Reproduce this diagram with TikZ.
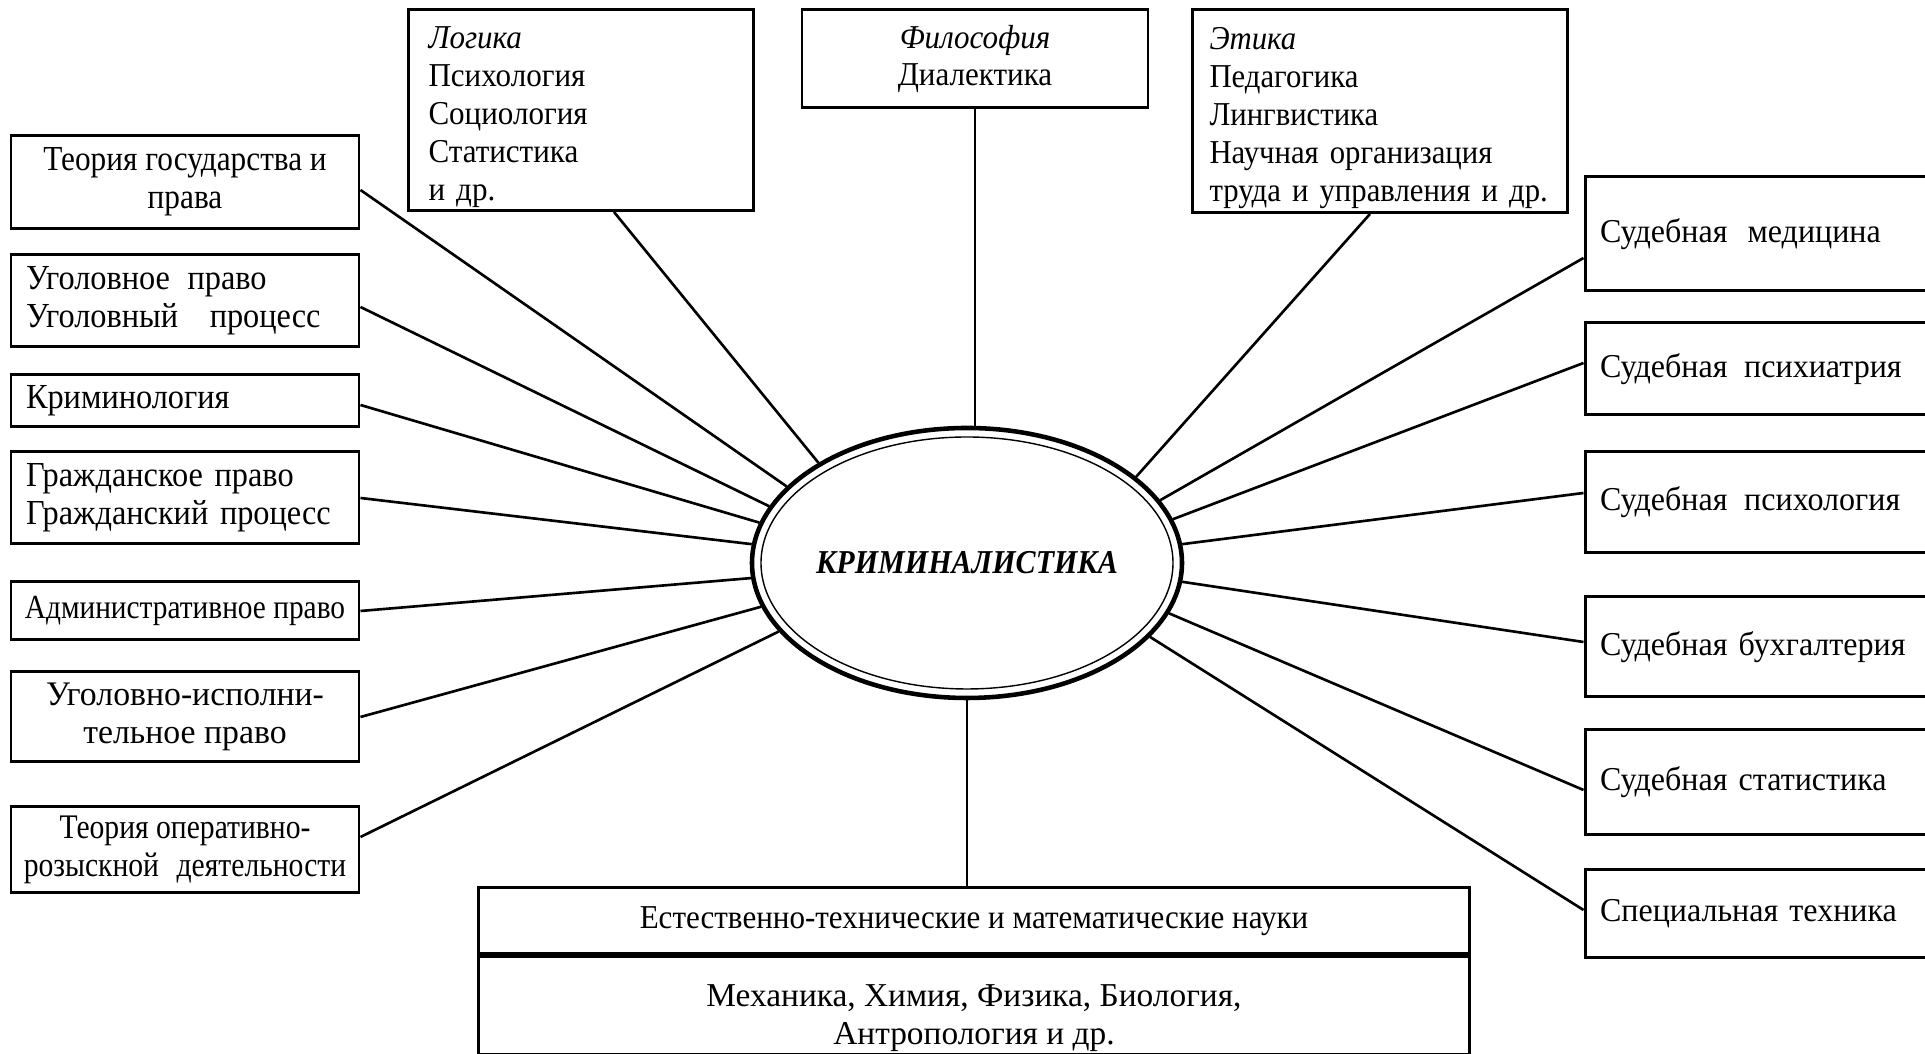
\documentclass[tikz,border=0pt]{standalone}
\usepackage{fontspec}
\setmainfont{Liberation Serif}
\usetikzlibrary{positioning,calc,shapes.geometric}

% size and horizontal stretch of box text
\newcommand\boxfnt[2]{\fontsize{#1}{10.8}\selectfont\addfontfeatures{FakeStretch=#2}}

\begin{document}
\begin{tikzpicture}[x=0.1mm, y=-0.1mm,
  box/.style={draw, line width=0.85pt, inner xsep=1.5mm, inner ysep=0pt,
    font=\boxfnt{9.5}{0.93}},
  leftcol/.style={box, minimum width=34.8mm, font=\boxfnt{10}{0.92}},
  rightcol/.style={box, text width=32mm, align=left, font=\boxfnt{9.5}{0.96}},
  link/.style={line width=0.75pt}]
  \useasboundingbox (0,0) rectangle (1925,1054);

  % centre
  \node[draw, ellipse, line width=1.3pt, minimum width=43mm, minimum height=27mm, inner sep=0pt,
    label={[font=\boxfnt{9.5}{0.9}\bfseries\itshape]center:КРИМИНАЛИСТИКА}] (crim) at (967,563) {};
  \draw[line width=0.4pt] (crim.center) ellipse [x radius=20.6mm, y radius=12.6mm];

  % top row
  \node[box, inner xsep=2mm, text width=30.5mm, minimum height=20.1mm, text height=10.5pt, align=left] (logic) at (581,110)
    {\textit{Логика}\\Психология\\Социология\\Статистика\\и др.};
  \node[box, minimum width=34.6mm, minimum height=9.8mm, align=center] (phil) at (975,59)
    {\textit{Философия}\\Диалектика};
  \node[box, inner xsep=1.7mm, text width=34.1mm, minimum height=20.3mm, text height=10.5pt, align=left,
    font=\boxfnt{9.5}{0.92}] (ethics) at (1380,111)
    {\textit{Этика}\\Педагогика\\Лингвистика\\Научная организация\\труда и управления и др.};

  % left column
  \node[leftcol, minimum height=9.3mm, align=center, font=\boxfnt{10}{0.89}] (tgp) at (185,182) {Теория государства и\\права};
  \node[leftcol, text width=31.8mm, minimum height=9.2mm, align=left] (ugol) at (185,301)
    {Уголовное\hspace{0.5em}право\\Уголовный\hspace{0.9em}процесс};
  \node[leftcol, text width=31.8mm, minimum height=5.2mm, align=left] (krim) at (185,401) {Криминология};
  \node[leftcol, text width=31.8mm, minimum height=9.2mm, align=left] (grazh) at (185,498)
    {Гражданское право\\Гражданский процесс};
  \node[leftcol, minimum height=5.8mm, inner xsep=0.5mm, font=\boxfnt{9.6}{0.87}] (adm) at (185,611)
    {Административное право};
  \node[leftcol, minimum height=9mm, align=center, font=\boxfnt{9.8}{0.98}] (uis) at (185,717)
    {Уголовно-исполни-\\тельное право};
  \node[leftcol, minimum height=8.6mm, inner xsep=0.5mm, align=center, font=\boxfnt{9.8}{0.86}] (ord) at (185,850)
    {Теория оперативно-\\розыскной\hspace{5pt}деятельности};

  % right column
  \node[rightcol, minimum height=11.4mm] (med) at (1760,234) {Судебная\hspace{0.6em}медицина};
  \node[rightcol, minimum height=9.2mm] (psychi) at (1760,369) {Судебная\hspace{0.5em}психиатрия};
  \node[rightcol, minimum height=10.1mm] (psycho) at (1760,502) {Судебная\hspace{0.5em}психология};
  \node[rightcol, minimum height=10mm] (acct) at (1760,647) {Судебная бухгалтерия};
  \node[rightcol, minimum height=10.5mm] (stat) at (1760,782) {Судебная статистика};
  \node[rightcol, minimum height=8.8mm] (tech) at (1760,914) {Специальная техника};

  % bottom
  \node[box, minimum width=99.1mm, minimum height=6.6mm] (nat) at (974,921)
    {Естественно-технические и математические науки};
  \node[box, minimum width=99.1mm, minimum height=9.8mm, below=0pt of nat,
    label={[font=\boxfnt{9.5}{1}, align=center, yshift=-3.5pt]center:Механика, Химия, Физика, Биология,\\Антропология и др.}] (natlist) {};

  % links
  \draw[link] (phil.south) -- (phil.south |- crim.north);
  \draw[link] ($(logic.south)+(33,0)$) -- (crim.146.5);
  \draw[link] ($(ethics.south)+(-10,0)$) -- (crim.27.2);
  \draw[link] ($(tgp.east)+(0,8)$) -- (crim.157.7);
  \draw[link] ($(ugol.east)+(0,6)$) -- (crim.164.2);
  \draw[link] ($(krim.east)+(0,4)$) -- (crim.169.7);
  \draw[link] (grazh.east) -- (crim.175.8);
  \draw[link] (adm.east) -- (crim.184.5);
  \draw[link] (uis.east) -- (crim.192.7);
  \draw[link] ($(ord.east)+(0,-13)$) -- (crim.200.3);
  \draw[link] ($(med.west)+(0,24)$) -- (crim.18.3);
  \draw[link] ($(psychi.west)+(0,-6)$) -- (crim.12.4);
  \draw[link] ($(psycho.west)+(0,-9)$) -- (crim.5.5);
  \draw[link] ($(acct.west)+(0,-5)$) -- (crim.-5);
  \draw[link] ($(stat.west)+(0,8)$) -- (crim.-14.9);
  \draw[link] ($(tech.west)+(0,-4)$) -- (crim.-22.5);
  \draw[link] (crim.south) -- (crim.south |- nat.north);
\end{tikzpicture}
\end{document}
